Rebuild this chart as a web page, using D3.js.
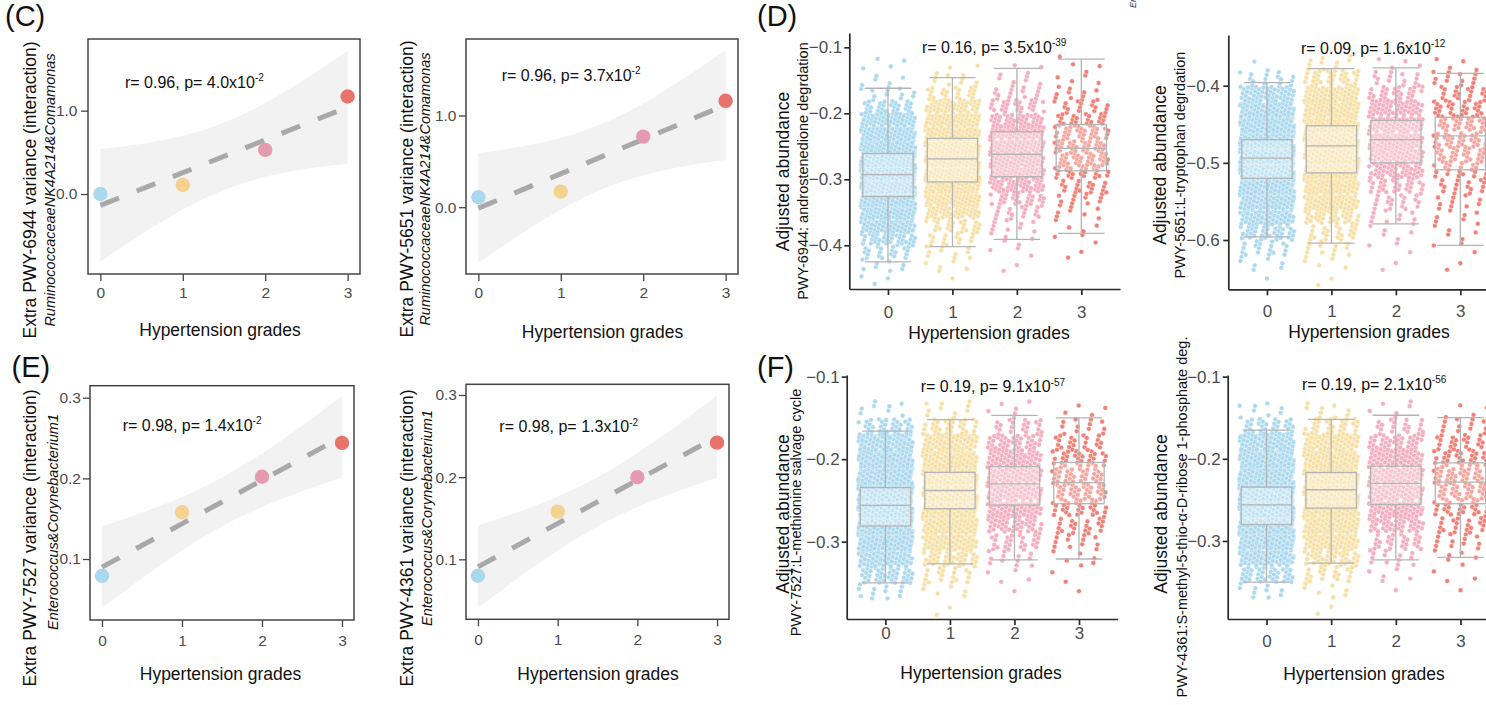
<!DOCTYPE html>
<html><head><meta charset="utf-8">
<script src="https://cdn.jsdelivr.net/npm/d3@7"></script>
<style>
body{margin:0;background:#fff;}
svg{display:block;font-family:"Liberation Sans",Arial,Helvetica,sans-serif;}
</style>
</head><body>
<svg id="chart" width="1486" height="705"></svg>
<script>
// ---------------- DATA ----------------
const grades = [0, 1, 2, 3];
const gradeLabels = ["0", "1", "2", "3"];
const scatterColors = ["#a9d9ee", "#f3d38f", "#e69ab0", "#e8726c"];
const jitterColors  = ["#acd9ee", "#f6e0a6", "#f3aebf", "#ef8177"];

// (C)/(E) group means of interaction variance
const pwy6944Interaction = [0.00, 0.11, 0.53, 1.17];
const pwy5651Interaction = [0.11, 0.17, 0.77, 1.16];
const pwy7527Interaction = [0.079, 0.158, 0.202, 0.244];
const pwy4361Interaction = [0.080, 0.158, 0.200, 0.242];
const ticksC = [0.0, 1.0];
const ticksE = [0.1, 0.2, 0.3];

// (D)/(F) box statistics per grade: [lower whisker, Q1, median, Q3, upper whisker]
const pwy6944Box = [[-0.425,-0.326,-0.293,-0.261,-0.162],[-0.402,-0.304,-0.269,-0.238,-0.146],[-0.391,-0.296,-0.262,-0.228,-0.132],[-0.382,-0.287,-0.253,-0.217,-0.118]];
const pwy5651Box = [[-0.596,-0.520,-0.494,-0.470,-0.396],[-0.604,-0.513,-0.478,-0.452,-0.378],[-0.579,-0.500,-0.470,-0.445,-0.377],[-0.607,-0.509,-0.465,-0.441,-0.384]];
const pwy7527Box = [[-0.350,-0.281,-0.256,-0.2345,-0.166],[-0.327,-0.260,-0.238,-0.216,-0.152],[-0.322,-0.2555,-0.230,-0.209,-0.147],[-0.321,-0.254,-0.2285,-0.204,-0.150]];
const pwy4361Box = [[-0.350,-0.280,-0.256,-0.2345,-0.165],[-0.327,-0.260,-0.2377,-0.2167,-0.152],[-0.323,-0.2555,-0.230,-0.209,-0.147],[-0.320,-0.2547,-0.2285,-0.205,-0.150]];
const ticksD1 = [-0.1, -0.2, -0.3, -0.4];
const ticksD2 = [-0.4, -0.5, -0.6];
const ticksF  = [-0.1, -0.2, -0.3];

// (D)/(F) sample counts per 0.02-wide abundance bin (estimated from the point clouds)
const binWidth = 0.02;
const pwy6944BinStart = -0.46;
const pwy6944Counts = [
  [3, 8, 20, 40, 75, 120, 175, 220, 235, 215, 165, 110, 62, 30, 12, 5, 3, 1],
  [1, 5, 10, 15, 25, 45, 75, 112, 145, 160, 148, 118, 80, 46, 22, 9, 3, 0],
  [0, 2, 3, 5, 9, 16, 28, 44, 60, 70, 68, 57, 42, 26, 14, 7, 3, 0],
  [0, 0, 2, 3, 4, 7, 12, 18, 26, 32, 34, 30, 24, 16, 10, 5, 3, 1]
];
const pwy5651BinStart = -0.66;
const pwy5651Counts = [
  [1, 7, 18, 38, 75, 125, 185, 230, 250, 230, 165, 100, 50, 16, 1],
  [2, 5, 12, 22, 40, 65, 100, 130, 150, 150, 125, 95, 60, 32, 10],
  [0, 2, 3, 5, 10, 18, 30, 45, 60, 68, 62, 48, 30, 14, 4],
  [0, 2, 3, 5, 7, 10, 16, 22, 28, 32, 32, 26, 20, 12, 4]
];
const pwy7527BinStart = -0.39;
const pwy7527Counts = [
  [0, 12, 40, 85, 145, 200, 235, 225, 190, 140, 85, 35, 8, 0],
  [2, 6, 18, 40, 75, 115, 150, 165, 150, 115, 70, 30, 10, 0],
  [0, 1, 4, 12, 25, 42, 60, 72, 72, 60, 42, 22, 5, 0],
  [0, 1, 2, 6, 12, 20, 28, 34, 35, 30, 22, 12, 4, 0]
];
const pwy4361BinStart = -0.39;
const pwy4361Counts = [
  [0, 10, 38, 88, 150, 205, 232, 222, 188, 138, 82, 32, 8, 0],
  [2, 7, 20, 42, 78, 118, 148, 160, 148, 112, 68, 28, 9, 0],
  [0, 1, 5, 13, 26, 44, 62, 72, 70, 58, 40, 20, 5, 0],
  [0, 1, 3, 6, 12, 20, 27, 33, 35, 30, 22, 12, 4, 0]
];

// correlation annotations
const corrR   = ["0.96", "0.96", "0.98", "0.98", "0.16", "0.09", "0.19", "0.19"];
const corrP   = ["4.0",  "3.7",  "1.4",  "1.3",  "3.5",  "1.6",  "9.1",  "2.1"];
const corrExp = ["-2",   "-2",   "-2",   "-2",   "-39",  "-12",  "-57",  "-56"];

const xTitle = "Hypertension grades";
const yTitleCE = ["Extra PWY-6944 variance (interaction)", "Extra PWY-5651 variance (interaction)",
                  "Extra PWY-7527 variance (interaction)", "Extra PWY-4361 variance (interaction)"];
const ySubCE = ["RuminococcaceaeNK4A214&Comamonas", "RuminococcaceaeNK4A214&Comamonas",
                "Enterococcus&Corynebacterium1", "Enterococcus&Corynebacterium1"];
const yTitleDF = "Adjusted abundance";
const ySubDF = ["PWY-6944: androstenedione degrdation", "PWY-5651:L-tryptophan degrdation",
                "PWY-7527:L-methionine salvage cycle", "PWY-4361:S-methyl-5-thio-\u03b1-D-ribose 1-phosphate deg."];
const panelTags = ["(C)", "(D)", "(E)", "(F)"];

// ---------------- DRAWING ----------------
const svg = d3.select("#chart");
const TICK_GREY = "#4d4d4d";

function linearFit(xs, ys) {
  const n = xs.length, mx = d3.mean(xs), my = d3.mean(ys);
  const sxx = d3.sum(xs, v => (v - mx) ** 2);
  const sxy = d3.sum(xs.map((v, i) => (v - mx) * (ys[i] - my)));
  const b = sxy / sxx, a = my - b * mx;
  const ssr = d3.sum(xs.map((v, i) => (ys[i] - (a + b * v)) ** 2));
  const s = Math.sqrt(ssr / (n - 2));
  const t = 4.302653; // t quantile 0.975, df = 2
  const f = v => a + b * v;
  const hw = v => t * s * Math.sqrt(1 / n + (v - mx) ** 2 / sxx);
  return { f, lo: v => f(v) - hw(v), hi: v => f(v) + hw(v) };
}

function vText(x, y, txt, size, italic) {
  svg.append("text")
    .attr("transform", `translate(${x},${y}) rotate(-90)`)
    .attr("text-anchor", "middle")
    .attr("font-size", size)
    .attr("font-style", italic ? "italic" : "normal")
    .attr("fill", "#111")
    .text(txt);
}
function hText(x, y, txt, size, anchor) {
  svg.append("text").attr("x", x).attr("y", y)
    .attr("text-anchor", anchor || "middle").attr("font-size", size).attr("fill", "#111").text(txt);
}
function annot(x, y, i) {
  const t = svg.append("text").attr("x", x).attr("y", y).attr("font-size", 16).attr("fill", "#111");
  t.append("tspan").text(`r= ${corrR[i]}, p= ${corrP[i]}x10`);
  t.append("tspan").attr("dy", -6.5).attr("font-size", 10).text(corrExp[i]);
}
function styleAxis(sel, size, color, lineColor, lineW) {
  sel.attr("font-family", null).attr("font-size", null);
  sel.selectAll("text").attr("font-size", size).attr("fill", color);
  sel.selectAll("line").attr("stroke", lineColor).attr("stroke-width", lineW);
  sel.selectAll("path.domain").attr("stroke", lineColor).attr("stroke-width", lineW);
}

function drawScatterPanel(c) {
  const g = svg.append("g");
  const x = d3.scaleLinear().domain([-0.15, 3.15]).range([c.left, c.right]);
  const y = d3.scaleLinear().domain(c.yDomain).range([c.bottom, c.top]);
  const fit = linearFit(grades, c.values);
  const xs = d3.range(0, 3.0001, 0.05);
  g.append("path").datum(xs)
    .attr("d", d3.area().x(d => x(d)).y0(d => y(fit.lo(d))).y1(d => y(fit.hi(d))))
    .attr("fill", "#f2f2f2");
  g.append("path").datum([0, 3])
    .attr("d", d3.line().x(d => x(d)).y(d => y(fit.f(d))))
    .attr("stroke", "#a9a9a9").attr("stroke-width", 5).attr("stroke-dasharray", "20,19").attr("fill", "none");
  g.selectAll("circle.pt").data(c.values).join("circle")
    .attr("cx", (d, i) => x(grades[i])).attr("cy", d => y(d)).attr("r", 7.2)
    .attr("fill", (d, i) => scatterColors[i]);
  g.append("rect").attr("x", c.left).attr("y", c.top).attr("width", c.right - c.left).attr("height", c.bottom - c.top)
    .attr("fill", "none").attr("stroke", "#444").attr("stroke-width", 1.5);
  const ax = g.append("g").attr("transform", `translate(0,${c.bottom})`)
    .call(d3.axisBottom(x).tickValues(grades).tickFormat((d, i) => gradeLabels[i]).tickSize(7).tickSizeOuter(0).tickPadding(c.xPad));
  ax.select(".domain").remove();
  styleAxis(ax, 15.5, TICK_GREY, "#444", 1.3);
  const ay = g.append("g").attr("transform", `translate(${c.left},0)`)
    .call(d3.axisLeft(y).tickValues(c.yTicks).tickFormat(d3.format(".1f")).tickSize(7).tickSizeOuter(0).tickPadding(c.yPad));
  ay.select(".domain").remove();
  styleAxis(ay, 15.5, TICK_GREY, "#444", 1.3);
}

function drawBoxPanel(c) {
  const g = svg.append("g");
  const x = d3.scaleLinear().domain([-0.6, 3.6]).range([c.left, c.right]);
  const y = d3.scaleLinear().domain(c.yDomain).range([c.top, c.bottom]);
  c.counts.forEach((counts, gi) => {
    const pts = [];
    let i = 0;
    counts.forEach((n, b) => {
      for (let k = 0; k < n; k++, i++) {
        const u = (0.5 + i * 0.7548776662) % 1, v = (0.5 + i * 0.5698402910) % 1;
        pts.push({ gx: grades[gi] - 0.42 + 0.84 * u, val: c.binStart + (b + v) * binWidth });
      }
    });
    g.append("g").selectAll("circle").data(pts).join("circle")
      .attr("cx", d => x(d.gx)).attr("cy", d => y(d.val)).attr("r", 2.4)
      .attr("fill", jitterColors[gi]).attr("stroke", "#fff").attr("stroke-width", 0.5).attr("stroke-opacity", 0.8);
  });
  const bw = 0.39, cw = 0.36;
  const bx = g.append("g").attr("stroke", "#b4b4b4").attr("stroke-width", 1.3);
  c.box.forEach((s, gi) => {
    const gx = grades[gi];
    bx.append("line").attr("x1", x(gx)).attr("x2", x(gx)).attr("y1", y(s[4])).attr("y2", y(s[3]));
    bx.append("line").attr("x1", x(gx)).attr("x2", x(gx)).attr("y1", y(s[1])).attr("y2", y(s[0]));
    bx.append("line").attr("x1", x(gx - cw)).attr("x2", x(gx + cw)).attr("y1", y(s[4])).attr("y2", y(s[4]));
    bx.append("line").attr("x1", x(gx - cw)).attr("x2", x(gx + cw)).attr("y1", y(s[0])).attr("y2", y(s[0]));
    bx.append("rect").attr("x", x(gx - bw)).attr("width", x(gx + bw) - x(gx - bw))
      .attr("y", y(s[3])).attr("height", y(s[1]) - y(s[3])).attr("fill", "#fff").attr("fill-opacity", 0.3);
    bx.append("line").attr("x1", x(gx - bw)).attr("x2", x(gx + bw)).attr("y1", y(s[2])).attr("y2", y(s[2]));
  });
  const ax = g.append("g").attr("transform", `translate(0,${c.bottom})`)
    .call(d3.axisBottom(x).tickValues(grades).tickFormat((d, i) => gradeLabels[i]).tickSize(6).tickSizeOuter(0).tickPadding(c.xPad));
  styleAxis(ax, 17, TICK_GREY, "#2a2a2a", 1.7);
  const ay = g.append("g").attr("transform", `translate(${c.left},0)`)
    .call(d3.axisLeft(y).tickValues(c.yTicks).tickFormat(d3.format(".1f")).tickSize(5).tickSizeOuter(0).tickPadding(c.yPad));
  styleAxis(ay, 17, TICK_GREY, "#2a2a2a", 1.7);
}

// (C)
drawScatterPanel({ values: pwy6944Interaction, yDomain: [-0.96, 1.86], yTicks: ticksC, left: 88, right: 360, top: 39, bottom: 274, xPad: 6, yPad: 3.5 });
drawScatterPanel({ values: pwy5651Interaction, yDomain: [-0.728, 1.834], yTicks: ticksC, left: 466, right: 738, top: 39, bottom: 274, xPad: 6, yPad: 2.5 });
// (E)
drawScatterPanel({ values: pwy7527Interaction, yDomain: [0.0244, 0.3149], yTicks: ticksE, left: 90, right: 354, top: 385.7, bottom: 620, xPad: 8, yPad: 2 });
drawScatterPanel({ values: pwy4361Interaction, yDomain: [0.027, 0.313], yTicks: ticksE, left: 466, right: 729, top: 384.3, bottom: 619.3, xPad: 8, yPad: 2 });
// (D)
drawBoxPanel({ box: pwy6944Box, counts: pwy6944Counts, binStart: pwy6944BinStart, yDomain: [-0.0783, -0.4662], yTicks: ticksD1, left: 849.3, right: 1120, top: 33, bottom: 289, xPad: 11, yPad: 2 });
drawBoxPanel({ box: pwy5651Box, counts: pwy5651Counts, binStart: pwy5651BinStart, yDomain: [-0.3343, -0.6639], yTicks: ticksD2, left: 1228.3, right: 1499, top: 35, bottom: 289.3, xPad: 10, yPad: 3.5 });
// (F)
drawBoxPanel({ box: pwy7527Box, counts: pwy7527Counts, binStart: pwy7527BinStart, yDomain: [-0.098, -0.3937], yTicks: ticksF, left: 846.7, right: 1117.7, top: 375, bottom: 619, xPad: 2, yPad: 2 });
drawBoxPanel({ box: pwy4361Box, counts: pwy4361Counts, binStart: pwy4361BinStart, yDomain: [-0.098, -0.395], yTicks: ticksF, left: 1227.7, right: 1499.3, top: 375, bottom: 619, xPad: 10, yPad: 2 });

// annotations
annot(125, 87.7, 0);
annot(501.7, 80.7, 1);
annot(122.7, 430.7, 2);
annot(499.3, 432.4, 3);
annot(922, 52.7, 4);
annot(1301, 53.7, 5);
annot(920.7, 392.4, 6);
annot(1302, 389.7, 7);

// x titles
hText(220, 336, xTitle, 17.5);
hText(602.5, 337.5, xTitle, 17.5);
hText(220.5, 680, xTitle, 17.5);
hText(598, 680, xTitle, 17.5);
hText(989, 339, xTitle, 17.5);
hText(1369, 338, xTitle, 17.5);
hText(981, 679, xTitle, 17.5);
hText(1364, 680, xTitle, 17.5);

// y titles
vText(36, 190, yTitleCE[0], 17.5, false);  vText(55, 190, ySubCE[0], 14.5, true);
vText(412.5, 189, yTitleCE[1], 17.5, false); vText(430, 189, ySubCE[1], 14.5, true);
vText(36, 538, yTitleCE[2], 17.5, false);  vText(58, 522, ySubCE[2], 14.5, true);
vText(412.5, 538, yTitleCE[3], 17.5, false); vText(431.5, 518, ySubCE[3], 14.5, true);
vText(789, 171.5, yTitleDF, 17.5, false);  vText(807.5, 171, ySubDF[0], 14.5, false);
vText(1166, 165, yTitleDF, 17.5, false);   vText(1185, 165, ySubDF[1], 14.5, false);
vText(789, 514, yTitleDF, 17.5, false);    vText(801, 512.5, ySubDF[2], 14.5, false);
vText(1167, 514, yTitleDF, 17.5, false);   vText(1187, 517, ySubDF[3], 14.5, false);

// panel tags
hText(5, 25.5, panelTags[0], 29, "start");
hText(757, 26, panelTags[1], 29, "start");
hText(11.5, 377, panelTags[2], 29, "start");
hText(757, 377, panelTags[3], 29, "start");

// cropped neighbouring label at the top edge
svg.append("text").attr("transform", "translate(1136,8) rotate(-90)")
  .attr("font-size", 9).attr("font-style", "italic").attr("fill", "#333").text(ySubCE[2]);
</script>
</body></html>
